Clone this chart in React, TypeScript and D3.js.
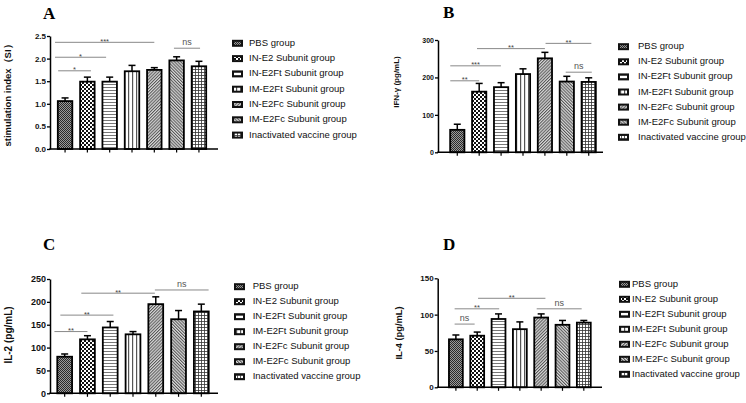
import React, { useRef, useEffect } from 'react';
import * as d3 from 'd3';

const groups = [
  'PBS group',
  'IN-E2 Subunit group',
  'IN-E2Ft Subunit group',
  'IM-E2Ft Subunit group',
  'IN-E2Fc Subunit group',
  'IM-E2Fc Subunit group',
  'Inactivated vaccine group',
];
const patternIds = ['pbs', 'ine2', 'ine2ft', 'ime2ft', 'ine2fc', 'ime2fc', 'inact'];

// A: stimulation index
const siMean = [1.06, 1.49, 1.49, 1.72, 1.75, 1.96, 1.83];
const siSem = [0.07, 0.1, 0.1, 0.13, 0.05, 0.08, 0.11];
// B: IFN-gamma
const ifnMean = [60, 162, 174, 209, 251, 189, 188];
const ifnSem = [15, 22, 12, 14, 16, 14, 11];
// C: IL-2
const il2Mean = [80, 118, 144, 129, 195, 162, 179];
const il2Sem = [6, 8, 13, 6, 16, 19, 16];
// D: IL-4
const il4Mean = [66, 71, 94, 80, 96, 86, 89];
const il4Sem = [6, 5, 7, 10, 5, 6, 3];

interface Sig { from: number; to: number; y: number; label: string; }

// from / to are positions in bar units (0 = first bar centre)
const siSig: Sig[] = [
  { from: -0.45, to: 4, y: 2.36, label: '***' },
  { from: -0.45, to: 1.84, y: 2.03, label: '*' },
  { from: -0.31, to: 1.16, y: 1.73, label: '*' },
  { from: 4.88, to: 6.05, y: 2.23, label: 'ns' },
];
const ifnSig: Sig[] = [
  { from: -0.32, to: 1.0, y: 191, label: '**' },
  { from: -0.32, to: 1.99, y: 231, label: '***' },
  { from: 0.9, to: 4.0, y: 277, label: '**' },
  { from: 4.03, to: 6.12, y: 291, label: '**' },
  { from: 4.95, to: 6.14, y: 214, label: 'ns' },
];
const il2Sig: Sig[] = [
  { from: -0.45, to: 1.0, y: 135, label: '**' },
  { from: -0.19, to: 2.14, y: 171, label: '**' },
  { from: 0.73, to: 3.96, y: 219, label: '**' },
  { from: 3.96, to: 6.32, y: 226, label: 'ns' },
];
const il4Sig: Sig[] = [
  { from: -0.06, to: 0.88, y: 87, label: 'ns' },
  { from: -0.06, to: 2.03, y: 108, label: '**' },
  { from: 1.04, to: 4.2, y: 122.5, label: '**' },
  { from: 3.79, to: 5.9, y: 108, label: 'ns' },
];

interface PanelCfg {
  letter: string; letterX: number; letterY: number;
  axisX: number; xRange: [number, number]; axisEnd: number;
  yTop: number; yBottom: number; yMax: number; yStep: number; fmt: string; tickSize: number;
  label: string; labelX: number; labelY: number; labelSize: number;
  swatchX: number; textX: number; legendY: number; legendStep: number;
  mean: number[]; sem: number[]; sig: Sig[];
}

const panels: PanelCfg[] = [
  {
    letter: 'A', letterX: 43, letterY: 18.5,
    axisX: 50, xRange: [50, 214], axisEnd: 218,
    yTop: 36, yBottom: 149, yMax: 2.5, yStep: 0.5, fmt: '.1f', tickSize: 8,
    label: 'stimulation index（SI）', labelX: 8, labelY: 93, labelSize: 9.5,
    swatchX: 233, textX: 249, legendY: 43.3, legendStep: 15.3,
    mean: siMean, sem: siSem, sig: siSig,
  },
  {
    letter: 'B', letterX: 443, letterY: 18,
    axisX: 438, xRange: [442.5, 603.5], axisEnd: 603,
    yTop: 40, yBottom: 152.3, yMax: 300, yStep: 100, fmt: 'd', tickSize: 7,
    label: 'IFN-γ (pg/mL)', labelX: 397, labelY: 82, labelSize: 8,
    swatchX: 619, textX: 638, legendY: 46.7, legendStep: 15.1,
    mean: ifnMean, sem: ifnSem, sig: ifnSig,
  },
  {
    letter: 'C', letterX: 43, letterY: 249.5,
    axisX: 50, xRange: [49.3, 216.7], axisEnd: 218,
    yTop: 279, yBottom: 393.3, yMax: 250, yStep: 50, fmt: 'd', tickSize: 9,
    label: 'IL-2 (pg/mL)', labelX: 9, labelY: 335, labelSize: 10,
    swatchX: 235, textX: 252.7, legendY: 286.7, legendStep: 15,
    mean: il2Mean, sem: il2Sem, sig: il2Sig,
  },
  {
    letter: 'D', letterX: 443, letterY: 249.5,
    axisX: 437.7, xRange: [441.5, 598.2], axisEnd: 602,
    yTop: 278.3, yBottom: 387.3, yMax: 150, yStep: 50, fmt: 'd', tickSize: 8,
    label: 'IL-4 (pg/mL)', labelX: 400, labelY: 333, labelSize: 9.3,
    swatchX: 620, textX: 632, legendY: 284.3, legendStep: 15,
    mean: il4Mean, sem: il4Sem, sig: il4Sig,
  },
];

const SANS = '"Liberation Sans", Arial, sans-serif';
const SERIF = '"Liberation Serif", "Times New Roman", serif';

function addPatterns(defs: d3.Selection<SVGDefsElement, unknown, null, undefined>) {
  // PBS: fine dark checker
  const pbs = defs.append('pattern').attr('id', 'pbs').attr('patternUnits', 'userSpaceOnUse')
    .attr('width', 2).attr('height', 2);
  pbs.append('rect').attr('width', 2).attr('height', 2).attr('fill', '#9a9a9a');
  pbs.append('rect').attr('width', 1).attr('height', 1).attr('fill', '#2a2a2a');
  pbs.append('rect').attr('x', 1).attr('y', 1).attr('width', 1).attr('height', 1).attr('fill', '#2a2a2a');

  // IN-E2: coarse checker
  const ine2 = defs.append('pattern').attr('id', 'ine2').attr('patternUnits', 'userSpaceOnUse')
    .attr('width', 4).attr('height', 4);
  ine2.append('rect').attr('width', 4).attr('height', 4).attr('fill', '#fff');
  ine2.append('rect').attr('width', 2).attr('height', 2).attr('fill', '#111');
  ine2.append('rect').attr('x', 2).attr('y', 2).attr('width', 2).attr('height', 2).attr('fill', '#111');

  // IN-E2Ft: horizontal lines
  const ine2ft = defs.append('pattern').attr('id', 'ine2ft').attr('patternUnits', 'userSpaceOnUse')
    .attr('width', 4).attr('height', 3);
  ine2ft.append('rect').attr('width', 4).attr('height', 3).attr('fill', '#fff');
  ine2ft.append('rect').attr('width', 4).attr('height', 1).attr('fill', '#777');

  // IM-E2Ft: vertical lines
  const ime2ft = defs.append('pattern').attr('id', 'ime2ft').attr('patternUnits', 'userSpaceOnUse')
    .attr('width', 4).attr('height', 4);
  ime2ft.append('rect').attr('width', 4).attr('height', 4).attr('fill', '#fff');
  ime2ft.append('rect').attr('width', 1.2).attr('height', 4).attr('fill', '#555');

  // IN-E2Fc / IM-E2Fc: diagonal hatching
  [['ine2fc', 45], ['ime2fc', -45]].forEach(([id, angle]) => {
    const p = defs.append('pattern').attr('id', id as string).attr('patternUnits', 'userSpaceOnUse')
      .attr('width', 2.2).attr('height', 4).attr('patternTransform', `rotate(${angle})`);
    p.append('rect').attr('width', 2.2).attr('height', 4).attr('fill', '#d8d8d8');
    p.append('rect').attr('width', 1).attr('height', 4).attr('fill', '#555');
  });

  // Inactivated: grid
  const inact = defs.append('pattern').attr('id', 'inact').attr('patternUnits', 'userSpaceOnUse')
    .attr('width', 3).attr('height', 3);
  inact.append('rect').attr('width', 3).attr('height', 3).attr('fill', '#fff');
  inact.append('rect').attr('width', 3).attr('height', 0.8).attr('fill', '#333');
  inact.append('rect').attr('width', 0.8).attr('height', 3).attr('fill', '#333');
}

function drawPanel(svg: d3.Selection<SVGSVGElement, unknown, null, undefined>, p: PanelCfg) {
  const g = svg.append('g');

  const x = d3.scaleBand<string>().domain(groups).range(p.xRange).paddingInner(0.35).paddingOuter(0.35);
  const y = d3.scaleLinear().domain([0, p.yMax]).range([p.yBottom, p.yTop]);
  const bw = x.bandwidth();
  const c0 = (x(groups[0]) ?? 0) + bw / 2;
  const pos = (f: number) => c0 + f * x.step();

  g.append('text')
    .attr('x', p.letterX).attr('y', p.letterY)
    .attr('font-family', SERIF).attr('font-weight', 'bold').attr('font-size', 17)
    .text(p.letter);

  // error bars (upper only)
  const err = g.append('g').attr('stroke', '#000').attr('stroke-width', 1.5);
  p.mean.forEach((m, i) => {
    const cx = (x(groups[i]) ?? 0) + bw / 2;
    err.append('line').attr('x1', cx).attr('x2', cx).attr('y1', y(m)).attr('y2', y(m + p.sem[i]));
    err.append('line').attr('x1', cx - 3.5).attr('x2', cx + 3.5)
      .attr('y1', y(m + p.sem[i])).attr('y2', y(m + p.sem[i]));
  });

  g.selectAll('rect.bar')
    .data(p.mean)
    .enter().append('rect')
    .attr('class', 'bar')
    .attr('x', (d, i) => x(groups[i]) ?? 0)
    .attr('y', d => y(d))
    .attr('width', bw)
    .attr('height', d => p.yBottom - y(d))
    .attr('fill', (d, i) => `url(#${patternIds[i]})`)
    .attr('stroke', '#000')
    .attr('stroke-width', 1.8);

  // y axis
  const yAxis = d3.axisLeft(y)
    .tickValues(d3.range(0, p.yMax + p.yStep / 2, p.yStep))
    .tickSize(3).tickSizeOuter(0)
    .tickFormat(d3.format(p.fmt) as any);
  const ya = g.append('g').attr('transform', `translate(${p.axisX},0)`).call(yAxis);
  ya.select('.domain').attr('stroke-width', 1.5);
  ya.selectAll('.tick line').attr('stroke-width', 1.3);
  ya.selectAll('.tick text')
    .attr('font-family', SANS).attr('font-weight', 'bold').attr('font-size', p.tickSize)
    .attr('fill', '#111').attr('x', -4);

  // x axis
  g.append('line').attr('x1', p.axisX - 0.75).attr('x2', p.axisEnd)
    .attr('y1', p.yBottom).attr('y2', p.yBottom).attr('stroke', '#000').attr('stroke-width', 1.5);
  g.selectAll('line.xtick')
    .data(groups)
    .enter().append('line')
    .attr('class', 'xtick')
    .attr('x1', d => (x(d) ?? 0) + bw / 2).attr('x2', d => (x(d) ?? 0) + bw / 2)
    .attr('y1', p.yBottom).attr('y2', p.yBottom + 3.5)
    .attr('stroke', '#000').attr('stroke-width', 1.2);

  // y label
  g.append('text')
    .attr('transform', `translate(${p.labelX},${p.labelY}) rotate(-90)`)
    .attr('text-anchor', 'middle').attr('dominant-baseline', 'middle')
    .attr('font-family', SANS).attr('font-weight', 'bold').attr('font-size', p.labelSize)
    .attr('fill', '#111')
    .text(p.label);

  // significance brackets
  p.sig.forEach(s => {
    const yy = y(s.y);
    g.append('line').attr('x1', pos(s.from)).attr('x2', pos(s.to))
      .attr('y1', yy).attr('y2', yy).attr('stroke', '#888').attr('stroke-width', 1);
    const isNs = s.label === 'ns';
    g.append('text')
      .attr('x', (pos(s.from) + pos(s.to)) / 2)
      .attr('y', isNs ? yy - 3 : yy + 1.5)
      .attr('text-anchor', 'middle')
      .attr('font-family', SANS)
      .attr('font-size', isNs ? 9 : 7.5)
      .attr('fill', isNs ? '#555' : '#444')
      .text(s.label);
  });

  // legend
  groups.forEach((name, i) => {
    const ly = p.legendY + i * p.legendStep;
    g.append('rect').attr('x', p.swatchX).attr('y', ly - 2.5).attr('width', 9).attr('height', 5)
      .attr('fill', `url(#${patternIds[i]})`).attr('stroke', '#111').attr('stroke-width', 2);
    g.append('text').attr('x', p.textX).attr('y', ly).attr('dominant-baseline', 'middle')
      .attr('font-family', SANS).attr('font-size', 9.5).attr('fill', '#111')
      .text(name);
  });
}

const App: React.FC = () => {
  const svgRef = useRef<SVGSVGElement | null>(null);

  useEffect(() => {
    if (!svgRef.current) return;
    const svg = d3.select(svgRef.current);
    svg.selectAll('*').remove();
    addPatterns(svg.append('defs'));
    panels.forEach(p => drawPanel(svg, p));
  }, []);

  return (
    <svg
      ref={svgRef}
      width={746}
      height={403}
      style={{ position: 'absolute', left: 0, top: 0, background: '#fff' }}
    />
  );
};

export default App;
